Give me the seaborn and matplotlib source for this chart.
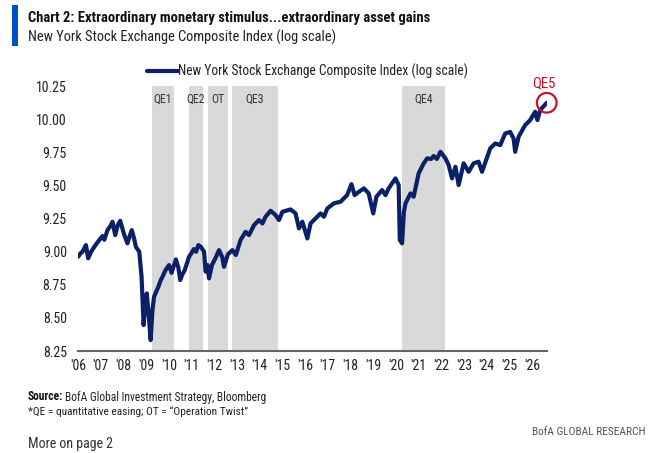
import matplotlib
matplotlib.use("Agg")
import matplotlib.pyplot as plt
from matplotlib import font_manager
import seaborn as sns
import pandas as pd

# ---- data ----
years = [2006.01, 2006.12, 2006.20, 2006.35, 2006.45, 2006.58, 2006.72, 2006.90, 2007.08, 2007.16,
         2007.30, 2007.45, 2007.52, 2007.64, 2007.75, 2007.86, 2007.95, 2008.04, 2008.18, 2008.28,
         2008.37, 2008.47, 2008.55, 2008.70, 2008.80, 2008.89, 2008.96, 2009.03, 2009.10, 2009.20,
         2009.28, 2009.35, 2009.45, 2009.55, 2009.63, 2009.72, 2009.85, 2010.01, 2010.12, 2010.31,
         2010.42, 2010.50, 2010.60, 2010.70, 2010.89, 2011.00, 2011.10, 2011.20, 2011.30, 2011.41,
         2011.55, 2011.62, 2011.70, 2011.77, 2011.90, 2012.05, 2012.21, 2012.35, 2012.43, 2012.60,
         2012.80, 2012.95, 2013.16, 2013.38, 2013.53, 2013.75, 2013.97, 2014.12, 2014.26, 2014.48,
         2014.70, 2014.85, 2015.00, 2015.36, 2015.58, 2015.73, 2015.88, 2016.10, 2016.24, 2016.46,
         2016.68, 2016.83, 2016.98, 2017.27, 2017.56, 2017.85, 2018.04, 2018.18, 2018.37, 2018.59,
         2018.80, 2019.00, 2019.14, 2019.39, 2019.54, 2019.68, 2019.98, 2020.12, 2020.17, 2020.27,
         2020.35, 2020.42, 2020.64, 2020.78, 2021.00, 2021.20, 2021.37, 2021.55, 2021.66, 2021.80,
         2021.96, 2022.18, 2022.32, 2022.47, 2022.62, 2022.76, 2022.98, 2023.20, 2023.42, 2023.64,
         2023.79, 2024.15, 2024.37, 2024.59, 2024.81, 2025.03, 2025.18, 2025.25, 2025.40, 2025.69,
         2025.91, 2026.13, 2026.23, 2026.35, 2026.64]
nyse_log = [8.962, 8.990, 9.000, 9.050, 8.950, 9.000, 9.037, 9.080, 9.118, 9.090,
            9.163, 9.200, 9.226, 9.125, 9.200, 9.233, 9.180, 9.125, 9.063, 9.120,
            9.163, 9.100, 9.037, 8.999, 8.810, 8.446, 8.600, 8.685, 8.550, 8.333,
            8.560, 8.660, 8.700, 8.740, 8.780, 8.810, 8.860, 8.899, 8.840, 8.942,
            8.880, 8.786, 8.830, 8.860, 8.962, 8.990, 9.020, 9.000, 9.050, 9.037,
            9.000, 8.850, 8.900, 8.799, 8.900, 8.950, 9.012, 8.960, 8.886, 8.980,
            9.012, 8.975, 9.088, 9.150, 9.125, 9.200, 9.239, 9.213, 9.264, 9.309,
            9.276, 9.239, 9.301, 9.319, 9.289, 9.176, 9.226, 9.100, 9.213, 9.251,
            9.289, 9.264, 9.327, 9.365, 9.377, 9.427, 9.510, 9.427, 9.452, 9.478,
            9.440, 9.289, 9.415, 9.465, 9.427, 9.478, 9.553, 9.503, 9.088, 9.063,
            9.300, 9.365, 9.440, 9.415, 9.591, 9.660, 9.704, 9.700, 9.722, 9.700,
            9.754, 9.704, 9.654, 9.553, 9.641, 9.503, 9.667, 9.603, 9.667, 9.679,
            9.603, 9.779, 9.817, 9.804, 9.892, 9.904, 9.854, 9.754, 9.867, 9.956,
            9.993, 10.056, 9.993, 10.069, 10.124]

qe_labels = ["QE1", "QE2", "OT", "QE3", "QE4"]
qe_start = [2009.24, 2010.88, 2011.74, 2012.76, 2020.27]
qe_end = [2010.23, 2011.50, 2012.60, 2014.80, 2022.18]

tick_years = list(range(2006, 2027))
tick_labels = ["'%02d" % (y % 100) for y in tick_years]
y_ticks = [8.25, 8.50, 8.75, 9.00, 9.25, 9.50, 9.75, 10.00, 10.25]

series_name = "New York Stock Exchange Composite Index (log scale)"
title = "Chart 2: Extraordinary monetary stimulus...extraordinary asset gains"
subtitle = "New York Stock Exchange Composite Index (log scale)"

# ---- style ----
sns.set_style("white")
avail = {f.name for f in font_manager.fontManager.ttflist}
fam = "DejaVu Sans"
for cand in ["Liberation Sans Narrow", "Roboto Condensed", "Open Sans Condensed", "Roboto", "Liberation Sans"]:
    if cand in avail:
        fam = cand
        break
plt.rcParams["font.family"] = [fam, "DejaVu Sans"]

NAVY = "#0A2168"
SHADE = "#D9D9D9"
RED = "#C8102E"
TXT = "#222222"

fig = plt.figure(figsize=(6.67, 4.53), dpi=100)
ax = fig.add_axes([0.1169, 0.225, 0.7035, 0.585])

df = pd.DataFrame({"year": years, "value": nyse_log})

for lab, s, e in zip(qe_labels, qe_start, qe_end):
    ax.axvspan(s, e, color=SHADE, lw=0, zorder=0)
    ax.text((s + e) / 2, 0.975, lab, transform=ax.get_xaxis_transform(),
            ha="center", va="top", fontsize=8.5, color="#333333")

sns.lineplot(data=df, x="year", y="value", ax=ax, color=NAVY, lw=3.0,
             label=series_name, zorder=3)

# QE5 circle around the last point
ax.scatter([years[-1]], [nyse_log[-1]], s=200, facecolors="none",
           edgecolors=RED, linewidths=1.6, zorder=4, clip_on=False)
ax.annotate("QE5", (years[-1], nyse_log[-1]), xytext=(-2, 9),
            textcoords="offset points", ha="center", va="bottom",
            fontsize=10.5, color=RED, annotation_clip=False)

ax.set_xlim(2006.0, 2026.66)
ax.set_ylim(8.25, 10.25)
ax.set_xticks(tick_years)
ax.set_xticklabels(tick_labels)
ax.set_yticks(y_ticks)
ax.set_yticklabels(["%.2f" % v for v in y_ticks])
ax.tick_params(axis="both", length=0, labelsize=10, colors=TXT)
ax.tick_params(axis="y", pad=8)
ax.tick_params(axis="x", pad=6)
ax.set_xlabel("")
ax.set_ylabel("")
for sp in ["top", "right", "left"]:
    ax.spines[sp].set_visible(False)
ax.spines["bottom"].set_color("#666666")
ax.spines["bottom"].set_linewidth(1.5)
ax.grid(False)

leg = ax.legend(loc="lower center", bbox_to_anchor=(0.489, 1.0), frameon=False,
                fontsize=9.75, handlelength=2.3, handletextpad=0.05, borderaxespad=0.1)
for t in leg.get_texts():
    t.set_color(TXT)

# ---- titles and footer ----
fig.patches.append(plt.Rectangle((12 / 667, 1 - 46 / 453), 6 / 667, 41 / 453,
                                 transform=fig.transFigure, color="#0050C8", lw=0))
fig.text(28 / 667, 1 - 18 / 453, title, fontsize=10.5, fontweight="bold",
         color="#111111", va="center", ha="left")
fig.text(28 / 667, 1 - 37 / 453, subtitle, fontsize=10.4, color=TXT,
         va="center", ha="left")

src_bold = fig.text(28 / 667, 1 - 397 / 453, "Source:", fontsize=8.3,
                    fontweight="bold", color="#111111", va="center", ha="left")
fig.canvas.draw()
bb = src_bold.get_window_extent()
fig.text((bb.x1 + 1.5) / fig.bbox.width, 1 - 397 / 453,
         "BofA Global Investment Strategy, Bloomberg", fontsize=8.3,
         color=TXT, va="center", ha="left")
fig.text(28 / 667, 1 - 412 / 453,
         "*QE = quantitative easing; OT = \u201cOperation Twist\u201d",
         fontsize=8.2, color=TXT, va="center", ha="left")
fig.text(645 / 667, 1 - 432 / 453, "BofA GLOBAL RESEARCH", fontsize=8.2,
         color="#555555", va="center", ha="right")
fig.text(28 / 667, 0.004, "More on page 2", fontsize=10,
         color="#333333", va="bottom", ha="left")

fig.savefig("out.png", dpi=100)
